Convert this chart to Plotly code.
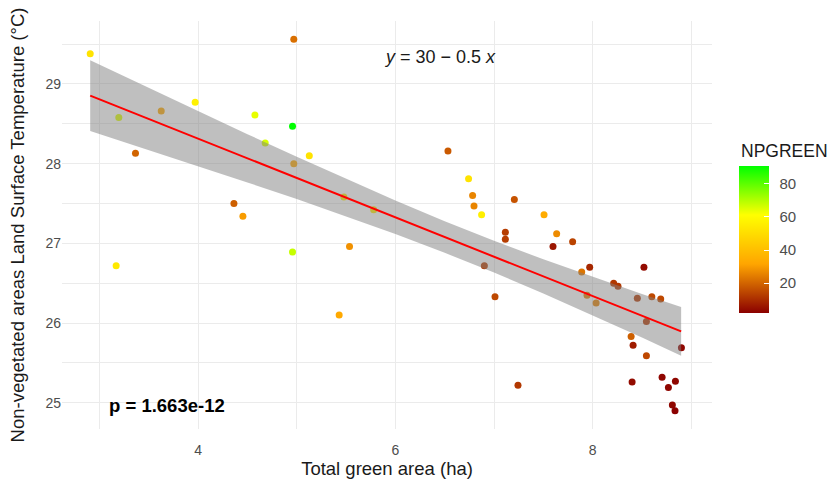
import plotly.graph_objects as go

# ---- data ----
green_area = [2.906, 3.196, 3.626, 3.365, 3.970, 4.576, 4.957, 4.680, 5.127, 4.970,
              4.363, 4.454, 4.970, 3.169, 4.957, 5.478, 5.780, 5.535, 6.533, 6.742,
              6.783, 6.797, 6.874, 6.902, 5.430, 7.010, 7.243, 7.206, 7.115, 7.115,
              7.507, 7.635, 7.598, 7.797, 7.970, 7.889, 8.520, 8.213, 8.257, 7.943,
              8.035, 8.453, 8.600, 8.690, 8.545, 8.390, 8.410, 8.545, 8.900, 8.400,
              8.704, 8.839, 8.768, 8.808, 8.835]
lst = [29.38, 28.58, 28.66, 28.13, 28.77, 28.61, 28.47, 28.26, 28.10, 28.00,
       27.50, 27.34, 29.56, 26.72, 26.89, 27.58, 27.42, 26.96, 28.16, 27.81,
       27.60, 27.47, 27.36, 26.72, 26.10, 26.33, 25.22, 27.55, 27.14, 27.05,
       27.36, 27.12, 26.96, 27.02, 26.70, 26.64, 26.70, 26.50, 26.46, 26.35,
       26.25, 26.31, 26.33, 26.30, 26.02, 25.83, 25.72, 25.59, 25.69, 25.26,
       25.32, 25.27, 25.19, 24.97, 24.90]
npgreen = [52, 65, 33, 20, 57, 64, 91, 66, 52, 33,
           19, 30, 22, 54, 68, 55, 55, 28, 18, 52,
           26, 26, 56, 13, 33, 15, 12, 17, 13, 13,
           34, 27, 6, 14, 9, 23, 4, 12, 12, 25,
           25, 12, 15, 15, 12, 19, 7, 15, 3, 4,
           3, 3, 3, 3, 2]

# fitted line and confidence band
fit_x = [2.906, 3.5, 4.0, 4.5, 5.0, 5.5, 6.0, 6.5, 7.0, 7.5, 8.0, 8.5, 8.897]
fit_y = [28.854, 28.561, 28.314, 28.067, 27.820, 27.573, 27.326, 27.079, 26.832,
         26.585, 26.338, 26.091, 25.895]
fit_upper = [29.299, 28.951, 28.659, 28.370, 28.085, 27.806, 27.536, 27.277, 27.031,
             26.800, 26.579, 26.365, 26.200]
fit_lower = [28.409, 28.171, 27.969, 27.764, 27.555, 27.340, 27.116, 26.881, 26.633,
             26.370, 26.097, 25.817, 25.590]

x_ticks = [4, 6, 8]
x_minor = [3, 5, 7, 9]
y_ticks = [25, 26, 27, 28, 29]
y_minor = [24.5, 25.5, 26.5, 27.5, 28.5, 29.5]
cbar_ticks = [20, 40, 60, 80]

colorscale = [[0.0, "#8B0000"], [1/3, "#FFA500"], [2/3, "#FFFF00"], [1.0, "#00FF00"]]
FONT = "Liberation Sans"

cbar_common = dict(
    x=1.042, xanchor="left", xpad=0,
    y=0.465, yanchor="middle", ypad=0,
    lenmode="pixels", len=147, thickness=30,
    outlinewidth=0, tickvals=cbar_ticks,
)

fig = go.Figure()
# points with the labelled colour bar
fig.add_trace(go.Scatter(
    x=green_area, y=lst, mode="markers", showlegend=False,
    marker=dict(size=7, color=npgreen, colorscale=colorscale, cmin=2, cmax=91,
                line=dict(width=0), showscale=True,
                colorbar=dict(
                    ticks="outside", ticklen=8, tickcolor="rgba(0,0,0,0)",
                    tickfont=dict(size=15, color="#4D4D4D", family=FONT),
                    **cbar_common))))
# same colour bar again, only for the white inner tick marks
fig.add_trace(go.Scatter(
    x=green_area, y=lst, mode="markers", showlegend=False, hoverinfo="skip",
    marker=dict(size=7, color=npgreen, colorscale=colorscale, cmin=2, cmax=91,
                opacity=0, showscale=True,
                colorbar=dict(
                    ticks="inside", ticklen=5, tickcolor="white", tickwidth=1,
                    showticklabels=False,
                    **cbar_common))))
fig.add_trace(go.Scatter(x=fit_x, y=fit_lower, mode="lines", line=dict(width=0),
                         showlegend=False, hoverinfo="skip"))
fig.add_trace(go.Scatter(x=fit_x, y=fit_upper, mode="lines", line=dict(width=0),
                         fill="tonexty", fillcolor="rgba(128,128,128,0.5)",
                         showlegend=False, hoverinfo="skip"))
fig.add_trace(go.Scatter(x=fit_x, y=fit_y, mode="lines",
                         line=dict(color="#FF0000", width=2), showlegend=False))

fig.add_annotation(x=6.455, y=29.34, xref="x", yref="y", showarrow=False,
                   text="<i>y</i> = 30 \u2212 0.5 <i>x</i>",
                   font=dict(size=18, color="#1a1a1a", family=FONT))
fig.add_annotation(x=3.687, y=24.97, xref="x", yref="y", showarrow=False,
                   text="<b>p = 1.663e-12</b>",
                   font=dict(size=18.5, color="black", family=FONT))
# colour bar title
fig.add_annotation(x=1.0415, y=0.681, xref="paper", yref="paper", showarrow=False,
                   xanchor="left", yanchor="middle", text="NPGREEN",
                   font=dict(size=17.5, color="#1a1a1a", family=FONT))

fig.update_layout(
    width=832, height=481,
    margin=dict(l=62, r=120, t=21, b=52),
    paper_bgcolor="white", plot_bgcolor="white",
    font=dict(family=FONT),
    xaxis=dict(range=[2.62, 9.21], tickvals=x_ticks, showgrid=True, automargin=False,
               gridcolor="#EBEBEB", gridwidth=1, zeroline=False, showline=False,
               ticks="outside", ticklen=8, tickcolor="rgba(0,0,0,0)",
               tickfont=dict(size=14, color="#4D4D4D"),
               minor=dict(tickvals=x_minor, showgrid=True, gridcolor="#EBEBEB", gridwidth=0.6),
               title=dict(text="Total green area (ha)", standoff=3,
                          font=dict(size=18.5, color="#1a1a1a"))),
    yaxis=dict(range=[24.67, 29.79], tickvals=y_ticks, showgrid=True, automargin=False,
               gridcolor="#EBEBEB", gridwidth=1, zeroline=False, showline=False,
               ticks="", tickfont=dict(size=14, color="#4D4D4D"),
               minor=dict(tickvals=y_minor, showgrid=True, gridcolor="#EBEBEB", gridwidth=0.6),
               title=dict(text="Non-vegetated areas Land Surface Temperature (\u00b0C)",
                          standoff=15, font=dict(size=18.5, color="#1a1a1a"))),
)

fig.write_html("out.html")
